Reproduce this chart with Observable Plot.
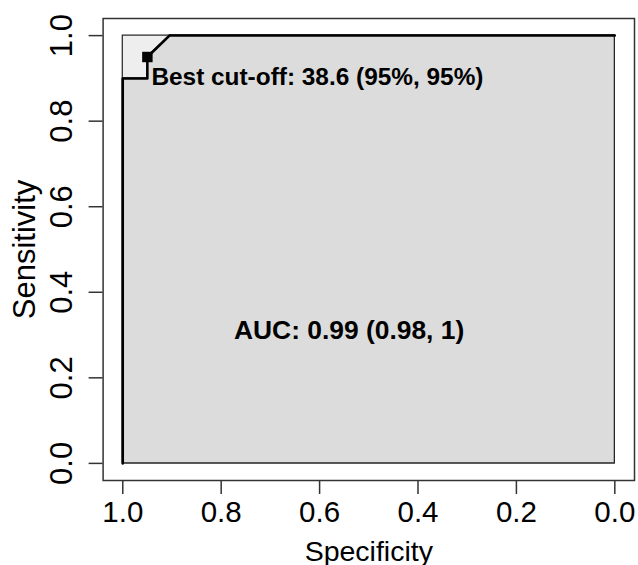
<!DOCTYPE html>
<html><head><meta charset="utf-8">
<script src="https://cdn.jsdelivr.net/npm/d3@7"></script>
<script src="https://cdn.jsdelivr.net/npm/@observablehq/plot@0.6"></script>
<style>html,body{margin:0;padding:0;background:#fff;overflow:hidden} svg{display:block}</style>
</head><body><div id="chart"></div>
<script>
// ROC curve points (specificity, sensitivity)
const specificity = [1, 1, 0.95, 0.95, 0.905, 0];
const sensitivity = [0, 0.9, 0.9, 0.95, 1, 1];
// best threshold
const bestThreshold = 38.6;
const bestSpecificity = 0.95;
const bestSensitivity = 0.95;
// AUC with CI
const aucValue = "0.99";
const aucCI = ["0.98", "1"];
// axes
const tickValues = [0, 0.2, 0.4, 0.6, 0.8, 1.0];
const tickLabels = ["0.0", "0.2", "0.4", "0.6", "0.8", "1.0"];
const xTitle = "Specificity";
const yTitle = "Sensitivity";

const curve = specificity.map((s, i) => ({spec: s, sens: sensitivity[i]}));
const best = [{threshold: bestThreshold, spec: bestSpecificity, sens: bestSensitivity}];
const aucText = `AUC: ${aucValue} (${aucCI[0]}, ${aucCI[1]})`;
const fmt = d => tickLabels[tickValues.indexOf(d)];
const font = "'Liberation Sans', Arial, Helvetica, sans-serif";

const plot = Plot.plot({
  width: 638, height: 565,
  marginLeft: 102.6, marginRight: 4, marginTop: 18, marginBottom: 85,
  x: {domain: [1.04, -0.04], axis: null},
  y: {domain: [-0.04, 1.04], axis: null},
  style: {fontFamily: font, background: "#fff", color: "#000", display: "block"},
  marks: [
    Plot.rect([0], {x1: d3.max(specificity), x2: d3.min(specificity), y1: d3.min(sensitivity), y2: d3.max(sensitivity), fill: "#EEEEEE", stroke: "#222", strokeWidth: 1.2}),
    Plot.areaY(curve, {x: "spec", y1: 0, y2: "sens", fill: "#DCDCDC", stroke: "#222", strokeWidth: 1.2}),
    Plot.line(curve, {x: "spec", y: "sens", stroke: "#000", strokeWidth: 2.5}),
    Plot.dot(best, {x: "spec", y: "sens", symbol: "square", r: 5.9, fill: "#000", stroke: "none"}),
    Plot.text(best, {x: "spec", y: "sens", text: d => `Best cut-off: ${d.threshold} (${Math.round(d.spec * 100)}%, ${Math.round(d.sens * 100)}%)`, textAnchor: "start", lineAnchor: "bottom", dx: 4, dy: 28, fontSize: 24.4, fontWeight: "bold", fill: "#000"}),
    Plot.text([aucText], {x: 0.54, y: 0.29, text: d => d, textAnchor: "middle", lineAnchor: "bottom", fontSize: 26.4, fontWeight: "bold", fill: "#000"}),
    Plot.axisX(tickValues, {anchor: "bottom", tickSize: 14, tickPadding: 7, tickFormat: fmt, fontSize: 29.5, stroke: "#333", strokeWidth: 1.5, label: null}),
    Plot.axisY(tickValues, {anchor: "left", tickSize: 14, tickPadding: 17, tickRotate: -90, tickFormat: fmt, fontSize: 31, stroke: "#333", strokeWidth: 1.5, label: null}),
    Plot.text([xTitle], {frameAnchor: "bottom", dy: 80, textAnchor: "middle", lineAnchor: "bottom", text: d => d, fontSize: 28.5, fill: "#000"}),
    Plot.text([yTitle], {frameAnchor: "left", dx: -68.6, rotate: -90, textAnchor: "middle", lineAnchor: "bottom", text: d => d, fontSize: 31, fill: "#000"}),
    Plot.frame({stroke: "#333", strokeWidth: 1.5})
  ]
});
document.getElementById("chart").appendChild(plot);
</script>
</body></html>
